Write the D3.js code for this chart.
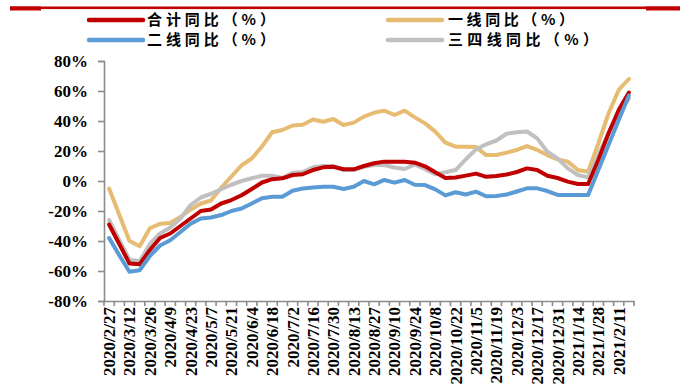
<!DOCTYPE html>
<html>
<head>
<meta charset="utf-8">
<script src="https://cdn.jsdelivr.net/npm/d3@7/dist/d3.min.js"></script>
<style>
  html, body { margin: 0; padding: 0; background: #fff; }
  svg { display: block; }
</style>
</head>
<body>
<svg id="chart" width="680" height="391"></svg>
<script>
// Weekly dates (2020/2/27 – 2021/2/18)
const dates = [
  "2020/2/27","2020/3/5","2020/3/12","2020/3/19","2020/3/26","2020/4/2","2020/4/9","2020/4/16",
  "2020/4/23","2020/4/30","2020/5/7","2020/5/14","2020/5/21","2020/5/28","2020/6/4","2020/6/11",
  "2020/6/18","2020/6/25","2020/7/2","2020/7/9","2020/7/16","2020/7/23","2020/7/30","2020/8/6",
  "2020/8/13","2020/8/20","2020/8/27","2020/9/3","2020/9/10","2020/9/17","2020/9/24","2020/10/1",
  "2020/10/8","2020/10/15","2020/10/22","2020/10/29","2020/11/5","2020/11/12","2020/11/19","2020/11/26",
  "2020/12/3","2020/12/10","2020/12/17","2020/12/24","2020/12/31","2021/1/7","2021/1/14","2021/1/21",
  "2021/1/28","2021/2/4","2021/2/11","2021/2/18"
];

// Year-on-year change (%)
const totalYoY = [
  -29,-42,-55,-55.5,-46,-38,-35,-30,-25,-20,-19,-15,-12.7,-9.5,-5.3,-1,
  1.2,1.8,4,4.5,7.3,9.1,9.5,7.8,7.8,10,11.8,12.9,12.9,12.9,12.2,9.8,
  5.8,2,2.3,3.6,4.9,2.8,3.3,4.3,6,8.4,7.3,3.5,2,-0.4,-2,-2,
  14,31.8,47.3,59
];
const tier1YoY = [
  -5,-22.5,-40,-43.5,-31.5,-28.5,-28,-24,-19,-15,-13,-4.5,3,10.5,15,23,
  32.5,34,37,37.5,41,39.5,41.3,37.3,38.9,42.9,45.5,46.9,44,46.9,42.4,38.4,
  32.9,25.6,22.9,22.9,22.6,17.3,17.3,18.9,20.7,23.3,20.7,17.3,14.4,12.9,7.3,6.2,
  25,45,60.7,68
];
const tier2YoY = [
  -38,-49.5,-60.5,-59.5,-50,-43,-39.5,-34,-28.5,-25,-24.3,-22.7,-20,-18.3,-15,-11.5,
  -10.5,-10.5,-6.5,-5,-4.4,-3.8,-3.8,-5.3,-3.8,0,-2.2,0.7,-1.1,0.7,-2.5,-2.7,
  -5.6,-9.6,-7.5,-9,-7.1,-10.2,-10,-9,-7,-4.9,-4.9,-6.7,-9.3,-9.3,-9.3,-9.3,
  7.3,24,40.7,57
];
const tier34YoY = [
  -26,-39.5,-52.5,-53.5,-42,-35,-31,-25,-16,-11,-8.5,-5.5,-2.5,0,1.8,3.5,
  3.5,2,5.5,6,9.1,10,10,7.3,7.3,9.5,10.7,10.7,9,8,11,7.8,
  4.5,5.8,7.3,14.5,21.1,24.5,27,31.5,32.5,33,28.4,19.6,15.1,8.4,4,2.4,
  17.3,31.8,45.1,55
];

const yTicks = [-80,-60,-40,-20,0,20,40,60,80];

const series = [
  { name: "合计同比（%）",   values: totalYoY, color: "#C00000" },
  { name: "一线同比（%）",   values: tier1YoY, color: "#E6BB72" },
  { name: "二线同比（%）",   values: tier2YoY, color: "#5B9BD5" },
  { name: "三四线同比（%）", values: tier34YoY, color: "#C0C0C0" }
];

const svg = d3.select("#chart");
const plot = { left: 104, right: 634, top: 61, bottom: 301 };

const x = d3.scaleBand().domain(dates).range([plot.left, plot.right]).padding(0);
const y = d3.scaleLinear().domain([-80, 80]).range([plot.bottom, plot.top]);

// Header rule
svg.append("rect").attr("x", 10).attr("y", 6.5).attr("width", 670).attr("height", 2.6).attr("fill", "#C00000");
svg.append("rect").attr("x", 10).attr("y", 6.5).attr("width", 31).attr("height", 4).attr("fill", "#C00000");
svg.append("rect").attr("x", 646).attr("y", 6.5).attr("width", 34).attr("height", 4).attr("fill", "#C00000");

// Legend
const legendPos = [
  { lx: 89, tx: 147, y: 20, w: 128 },
  { lx: 388, tx: 448, y: 20, w: 126 },
  { lx: 89, tx: 147, y: 40, w: 128 },
  { lx: 388, tx: 448, y: 40, w: 150 }
];
series.forEach((s, i) => {
  const p = legendPos[i];
  svg.append("line")
    .attr("x1", p.lx).attr("x2", p.lx + 54)
    .attr("y1", p.y).attr("y2", p.y)
    .attr("stroke", s.color).attr("stroke-width", 4.5).attr("stroke-linecap", "round");
  svg.append("text")
    .attr("x", p.tx).attr("y", p.y).attr("dy", "0.36em")
    .attr("font-family", "'Noto Sans CJK SC', sans-serif")
    .attr("font-weight", "bold").attr("font-size", 15)
    .attr("textLength", p.w).attr("lengthAdjust", "spacing")
    .attr("fill", "#000")
    .text(s.name);
});

// Y axis
const yAxis = d3.axisLeft(y).tickValues(yTicks).tickSize(6).tickPadding(10)
  .tickFormat(d => d + "%");
const gy = svg.append("g").attr("transform", `translate(${plot.left},0)`).call(yAxis);
gy.select(".domain").attr("stroke", "#8C8C8C").attr("stroke-width", 1.6);
gy.selectAll(".tick line").attr("stroke", "#8C8C8C").attr("stroke-width", 1.6);
gy.selectAll(".tick text")
  .attr("font-family", "'Liberation Serif', 'Times New Roman', serif")
  .attr("font-weight", "bold").attr("font-size", 17).attr("fill", "#000");

// X axis: a tick between every week, labels every two weeks
const xAxis = d3.axisBottom(x).tickSize(0).tickFormat(d => d);
const gx = svg.append("g").attr("transform", `translate(0,${plot.bottom})`).call(xAxis);
gx.select(".domain").attr("stroke", "#8C8C8C").attr("stroke-width", 1.6);
gx.selectAll(".tick text")
  .style("display", (d, i) => i % 2 === 0 ? null : "none")
  .attr("font-family", "'Liberation Serif', 'Times New Roman', serif")
  .attr("font-weight", "bold").attr("font-size", 17).attr("fill", "#000")
  .attr("text-anchor", "end")
  .attr("transform", "rotate(-90)")
  .attr("x", -6).attr("y", 0).attr("dy", "0.35em");
const boundaries = dates.map(d => x(d)).concat([x(dates[dates.length - 1]) + x.bandwidth()]);
gx.selectAll(".wk").data(boundaries).enter().append("line")
  .attr("x1", d => d).attr("x2", d => d).attr("y1", 0).attr("y2", 5)
  .attr("stroke", "#8C8C8C").attr("stroke-width", 1.6);

// Lines
const line = d3.line()
  .x((d, i) => x(dates[i]) + x.bandwidth() / 2)
  .y(d => y(d))
  .curve(d3.curveLinear);

const drawOrder = [1, 3, 0, 2];
drawOrder.forEach(k => {
  const s = series[k];
  svg.append("path")
    .datum(s.values)
    .attr("fill", "none")
    .attr("stroke", s.color)
    .attr("stroke-width", 4)
    .attr("stroke-linejoin", "round")
    .attr("stroke-linecap", "round")
    .attr("d", line);
});
</script>
</body>
</html>
